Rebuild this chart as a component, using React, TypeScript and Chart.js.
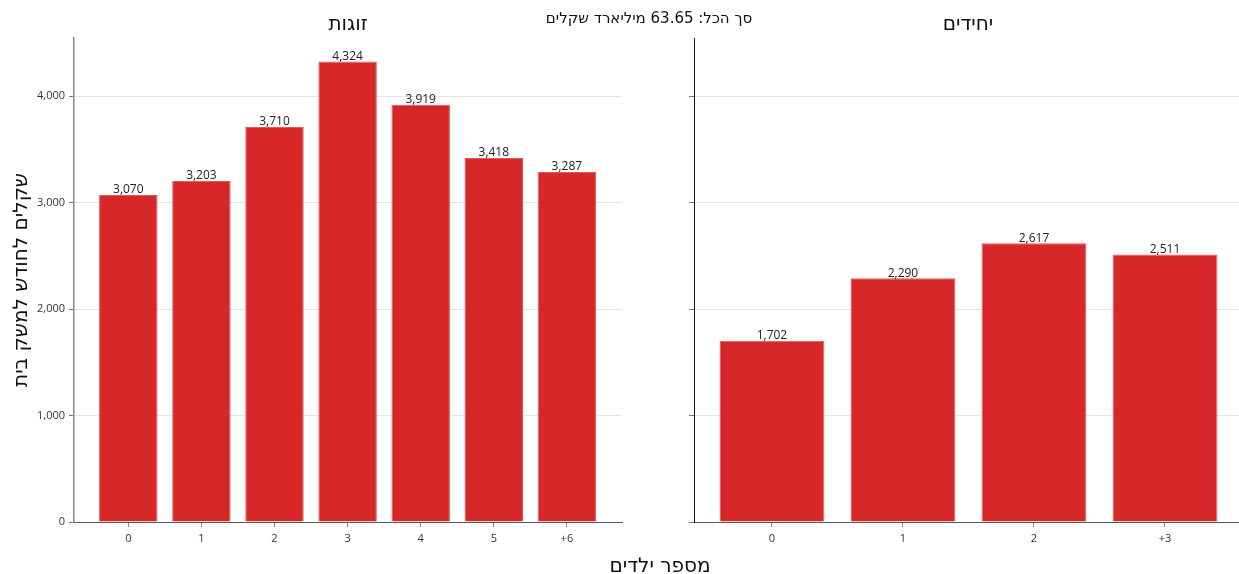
import React, { useEffect, useRef } from "react";
import { Chart, registerables } from "chart.js";
Chart.register(...registerables);

const couplesCategories = ["0", "1", "2", "3", "4", "5", "+6"];
const couplesValues = [3070, 3203, 3710, 4324, 3919, 3418, 3287];
const singlesCategories = ["0", "1", "2", "+3"];
const singlesValues = [1702, 2290, 2617, 2511];
const yTicks = [0, 1000, 2000, 3000, 4000];

const FONT = "'Open Sans', 'DejaVu Sans', sans-serif";
const HFONT = "'DejaVu Sans', 'Open Sans', sans-serif";
const BAR = "#d62828";

const labelPlugin = {
  id: "barLabels",
  afterDatasetsDraw(chart: any) {
    const ctx = chart.ctx;
    const meta = chart.getDatasetMeta(0);
    const data = chart.data.datasets[0].data as any[];
    ctx.save();
    ctx.font = `12px ${FONT}`;
    ctx.fillStyle = "#222";
    ctx.textAlign = "center";
    ctx.textBaseline = "bottom";
    meta.data.forEach((bar: any, i: number) => {
      ctx.fillText(data[i].y.toLocaleString("en-US"), bar.x, bar.y + 1);
    });
    ctx.restore();
  },
};

type Opts = {
  yWidth: number;
  rightPad: number;
  xMin: number;
  xMax: number;
  showYLabels: boolean;
  yAxisColor: string;
  yAxisWidth: number;
};

function makeChart(canvas: HTMLCanvasElement, cats: string[], vals: number[], o: Opts) {
  return new Chart(canvas, {
    type: "bar",
    data: {
      datasets: [
        {
          data: vals.map((v, i) => ({ x: i, y: v })),
          backgroundColor: BAR,
          borderColor: "#e45656",
          borderWidth: 1,
          categoryPercentage: 1,
          barPercentage: 0.8,
        } as any,
      ],
    },
    options: {
      animation: false,
      responsive: false,
      maintainAspectRatio: false,
      layout: { padding: { top: 38, right: o.rightPad, left: 0, bottom: 0 } },
      plugins: { legend: { display: false }, tooltip: { enabled: false }, title: { display: false } },
      scales: {
        x: {
          type: "linear",
          offset: false,
          min: o.xMin,
          max: o.xMax,
          afterBuildTicks: (scale: any) => {
            scale.ticks = cats.map((_, i) => ({ value: i }));
          },
          afterFit: (scale: any) => {
            scale.height = 52;
          },
          ticks: {
            autoSkip: false,
            maxRotation: 0,
            padding: 5,
            color: "#333",
            font: { family: FONT, size: 11 },
            callback: (v: any) => cats[v as number] ?? "",
          },
          grid: { offset: false, drawOnChartArea: false, drawTicks: true, tickLength: 5, tickColor: "#888" },
          border: { display: true, color: "#555", width: 1 },
        },
        y: {
          type: "linear",
          min: 0,
          max: 4545,
          afterBuildTicks: (scale: any) => {
            scale.ticks = yTicks.map((v) => ({ value: v }));
          },
          afterFit: (scale: any) => {
            scale.width = o.yWidth;
          },
          ticks: {
            display: o.showYLabels,
            padding: 4,
            color: "#333",
            font: { family: FONT, size: 11 },
            callback: (v: any) => Number(v).toLocaleString("en-US"),
          },
          grid: {
            color: (c: any) => (c.tick && c.tick.value === 0 ? "rgba(0,0,0,0)" : "#e4e4e4"),
            lineWidth: 1,
            drawTicks: true,
            tickLength: 5,
            tickColor: "#777",
          },
          border: { display: true, color: o.yAxisColor, width: o.yAxisWidth },
        },
      },
    } as any,
    plugins: [labelPlugin],
  });
}

const textBase: React.CSSProperties = {
  position: "absolute",
  fontFamily: HFONT,
  color: "#111",
  whiteSpace: "nowrap",
  direction: "rtl",
  lineHeight: 1,
};

export default function App() {
  const leftRef = useRef<HTMLCanvasElement>(null);
  const rightRef = useRef<HTMLCanvasElement>(null);

  useEffect(() => {
    document.body.style.margin = "0";
    const a = makeChart(leftRef.current!, couplesCategories, couplesValues, {
      yWidth: 74,
      rightPad: 18,
      xMin: -0.743,
      xMax: 6.754,
      showYLabels: true,
      yAxisColor: "#888",
      yAxisWidth: 1.5,
    });
    const b = makeChart(rightRef.current!, singlesCategories, singlesValues, {
      yWidth: 54,
      rightPad: 0,
      xMin: -0.595,
      xMax: 3.565,
      showYLabels: false,
      yAxisColor: "#111",
      yAxisWidth: 1,
    });
    return () => {
      a.destroy();
      b.destroy();
    };
  }, []);

  return (
    <div style={{ position: "relative", width: 1239, height: 574, background: "#fff", overflow: "hidden" }}>
      <canvas ref={leftRef} width={640} height={574} style={{ position: "absolute", left: 0, top: 0, width: 640, height: 574 }} />
      <canvas ref={rightRef} width={599} height={574} style={{ position: "absolute", left: 640, top: 0, width: 599, height: 574 }} />
      <div style={{ ...textBase, fontSize: 20, left: 348, top: 13, transform: "translateX(-50%)" }}>זוגות</div>
      <div style={{ ...textBase, fontSize: 20, left: 968, top: 13, transform: "translateX(-50%)" }}>יחידים</div>
      <div style={{ ...textBase, fontSize: 15, left: 649, top: 11, transform: "translateX(-50%)" }}>סך הכל: 63.65 מיליארד שקלים</div>
      <div style={{ ...textBase, fontSize: 20, left: 660, top: 555, transform: "translateX(-50%)" }}>מספר ילדים</div>
      <div
        style={{
          ...textBase,
          fontSize: 20,
          left: 20,
          top: 280,
          transform: "translate(-50%, -50%) rotate(-90deg)",
        }}
      >
        שקלים לחודש למשק בית
      </div>
    </div>
  );
}
